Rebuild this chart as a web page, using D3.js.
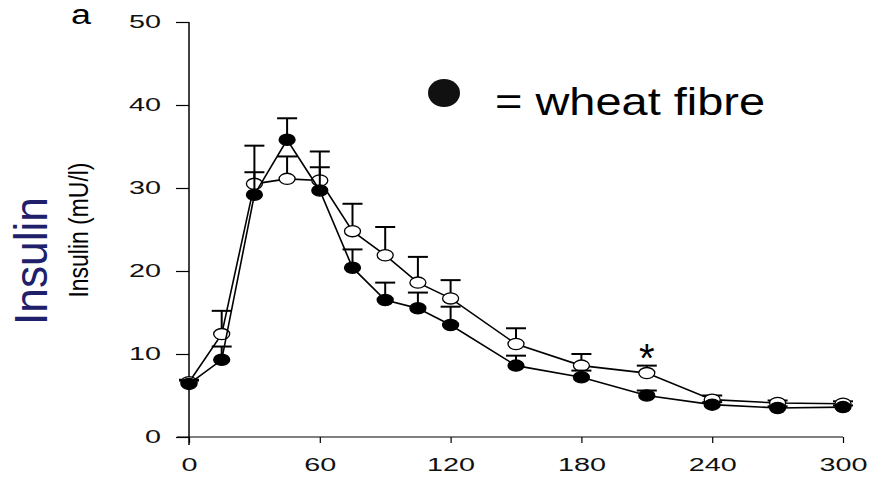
<!DOCTYPE html>
<html>
<head>
<meta charset="utf-8">
<script src="https://cdn.jsdelivr.net/npm/d3@7"></script>
<style>
  body { margin: 0; background: #fff; }
  svg { display: block; font-family: "Liberation Sans", Arial, sans-serif; }
</style>
</head>
<body>
<div id="chart"></div>
<script>
var WIDTH = 869,
    HEIGHT = 480;

// minutes after the meal
var times = [0, 15, 30, 45, 60, 75, 90, 105, 120, 150, 180, 210, 240, 270, 300];
// open circles (control)
var controlMean = [6.6, 12.4, 30.5, 31.1, 30.9, 24.8, 21.9, 18.6, 16.7, 11.2, 8.6, 7.7, 4.5, 4.1, 4.0];
var controlErr  = [0.3, 2.8, 4.6, 2.7, 3.5, 3.3, 3.4, 3.1, 2.2, 1.9, 1.4, 0.9, 0.5, 0.3, 0.3];
// filled circles (wheat fibre)
var wheatMean = [6.4, 9.3, 29.2, 35.8, 29.7, 20.4, 16.5, 15.5, 13.5, 8.6, 7.2, 5.0, 3.9, 3.5, 3.6];
var wheatErr  = [0.4, 1.6, 2.7, 2.6, 2.8, 2.2, 2.1, 1.9, 2.2, 1.2, 0.8, 0.6, 0.3, 0.2, 0.2];

var xTicks = [0, 60, 120, 180, 240, 300];
var yTicks = [0, 10, 20, 30, 40, 50];
var starAt = [210];

var svg = d3.select("#chart").append("svg")
  .attr("width", WIDTH)
  .attr("height", HEIGHT);

var x = d3.scaleLinear().domain([0, 300]).range([189, 843]),
    y = d3.scaleLinear().domain([0, 50]).range([437, 22]);

// axes
var yAxis = svg.append("g")
  .attr("transform", "translate(" + x(0) + ",0)")
  .call(d3.axisLeft(y).tickValues(yTicks).tickSize(13).tickPadding(15).tickSizeOuter(0));
var xAxis = svg.append("g")
  .attr("transform", "translate(0," + y(0) + ")")
  .call(d3.axisBottom(x).tickValues(xTicks).tickSize(6).tickPadding(15).tickSizeOuter(0));

[yAxis, xAxis].forEach(function(ax) {
  ax.select(".domain").remove();
  ax.selectAll(".tick line").attr("stroke", "#000").attr("stroke-width", 1.2);
  ax.selectAll(".tick text")
    .attr("fill", "#111")
    .style("font-size", "18px")
    .attr("textLength", function(d) { return String(d).length * 16; })
    .attr("lengthAdjust", "spacingAndGlyphs");
});

svg.append("line")
  .attr("x1", x(0)).attr("x2", x(0))
  .attr("y1", y(50)).attr("y2", y(0) + 8)
  .attr("stroke", "#000").attr("stroke-width", 1.5);
svg.append("line")
  .attr("x1", x(0) - 12).attr("x2", x(300))
  .attr("y1", y(0)).attr("y2", y(0))
  .attr("stroke", "#000").attr("stroke-width", 1.2);

function drawSeries(means, errs, fill) {
  var rows = times.map(function(t, i) { return {t: t, v: means[i], e: errs[i]}; });
  var g = svg.append("g");

  var bars = g.selectAll("g.err").data(rows).enter().append("g").attr("class", "err");
  bars.append("line")
    .attr("x1", function(d) { return x(d.t); })
    .attr("x2", function(d) { return x(d.t); })
    .attr("y1", function(d) { return y(d.v); })
    .attr("y2", function(d) { return y(d.v + d.e); })
    .attr("stroke", "#000").attr("stroke-width", 2);
  bars.append("line")
    .attr("x1", function(d) { return x(d.t) - 10; })
    .attr("x2", function(d) { return x(d.t) + 10; })
    .attr("y1", function(d) { return y(d.v + d.e); })
    .attr("y2", function(d) { return y(d.v + d.e); })
    .attr("stroke", "#000").attr("stroke-width", 2);

  g.append("path")
    .datum(rows)
    .attr("fill", "none")
    .attr("stroke", "#000")
    .attr("stroke-width", 1.6)
    .attr("d", d3.line().x(function(d) { return x(d.t); }).y(function(d) { return y(d.v); }));

  g.selectAll("ellipse").data(rows).enter().append("ellipse")
    .attr("cx", function(d) { return x(d.t); })
    .attr("cy", function(d) { return y(d.v); })
    .attr("rx", 8).attr("ry", 5.6)
    .attr("fill", fill)
    .attr("stroke", "#000").attr("stroke-width", 1.3);
}

drawSeries(controlMean, controlErr, "#fff");
drawSeries(wheatMean, wheatErr, "#000");

// significance mark
svg.selectAll("text.star").data(starAt).enter().append("text")
  .attr("class", "star")
  .attr("x", function(d) { return x(d); })
  .attr("y", function(d) { return y(controlMean[times.indexOf(d)] + controlErr[times.indexOf(d)]) + 6; })
  .attr("text-anchor", "middle")
  .style("font-size", "40px")
  .text("*");

// legend
svg.append("ellipse")
  .attr("cx", 444).attr("cy", 93)
  .attr("rx", 16).attr("ry", 14)
  .attr("fill", "#111");
svg.append("text")
  .attr("x", 495).attr("y", 115)
  .style("font-size", "39px")
  .attr("textLength", 270)
  .attr("lengthAdjust", "spacingAndGlyphs")
  .text("= wheat fibre");

// panel letter and axis titles
svg.append("text")
  .attr("x", 71).attr("y", 24)
  .style("font-size", "27px")
  .attr("textLength", 20)
  .attr("lengthAdjust", "spacingAndGlyphs")
  .text("a");

svg.append("text")
  .attr("transform", "translate(47,261) rotate(-90)")
  .attr("text-anchor", "middle")
  .attr("fill", "#20206a")
  .style("font-size", "47px")
  .attr("textLength", 128)
  .attr("lengthAdjust", "spacingAndGlyphs")
  .text("Insulin");

svg.append("text")
  .attr("transform", "translate(88,230) rotate(-90)")
  .attr("text-anchor", "middle")
  .attr("fill", "#000")
  .style("font-size", "28px")
  .attr("textLength", 135)
  .attr("lengthAdjust", "spacingAndGlyphs")
  .text("Insulin (mU/l)");
</script>
</body>
</html>
